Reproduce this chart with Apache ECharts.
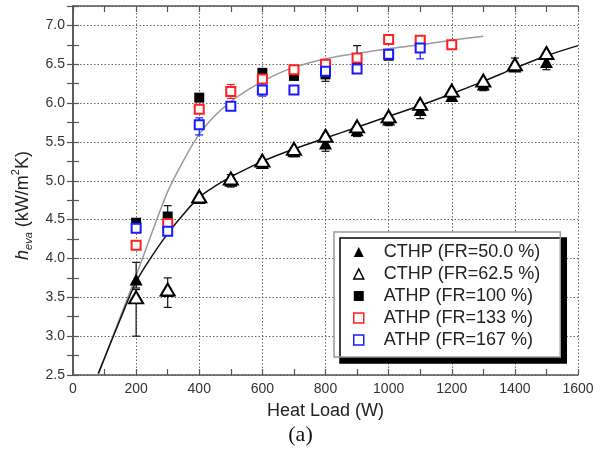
<!DOCTYPE html>
<html>
<head>
<meta charset="utf-8">
<script src="https://cdn.jsdelivr.net/npm/echarts@6/dist/echarts.min.js"></script>
<style>
html, body { margin: 0; padding: 0; background: #fff; }
#chart { width: 601px; height: 461px; }
</style>
</head>
<body>
<div id="chart"></div>
<script>
// measured points, heat load (W) vs h_eva (kW/m2K)
const cthp50X = [200, 300, 400, 500, 600, 700, 800, 900, 1000, 1100, 1200, 1300, 1400, 1500];
const cthp50Y = [3.73, 3.58, 4.78, 5.00, 5.23, 5.38, 5.48, 5.65, 5.79, 5.91, 6.09, 6.24, 6.47, 6.53];
const cthp625X = [200, 300, 400, 500, 600, 700, 800, 900, 1000, 1100, 1200, 1300, 1400, 1500];
const cthp625Y = [3.50, 3.60, 4.80, 5.03, 5.26, 5.41, 5.58, 5.70, 5.83, 5.99, 6.16, 6.29, 6.50, 6.645];
const athp100X = [200, 300, 400, 500, 600, 700, 800, 900, 1000, 1100];
const athp100Y = [4.46, 4.54, 6.07, 6.15, 6.39, 6.35, 6.37, 6.56, 6.61, 6.80];
const athp133X = [200, 300, 400, 500, 600, 700, 800, 900, 1000, 1100, 1200];
const athp133Y = [4.17, 4.45, 5.92, 6.15, 6.31, 6.43, 6.50, 6.58, 6.82, 6.81, 6.75];
const athp167X = [200, 300, 400, 500, 600, 700, 800, 900, 1000, 1100];
const athp167Y = [4.39, 4.35, 5.72, 5.96, 6.17, 6.17, 6.41, 6.44, 6.63, 6.71];

// error bars [load, low, high]
const errCthp50 = [[200, 3.62, 3.95], [600, 5.17, 5.28], [700, 5.31, 5.42], [800, 5.38, 5.56], [900, 5.57, 5.70],
                   [1000, 5.71, 5.84], [1100, 5.80, 5.96], [1300, 6.16, 6.28], [1500, 6.43, 6.60]];
const errCthp625 = [[200, 3.00, 3.60], [300, 3.37, 3.75], [500, 4.92, 5.08], [1400, 6.44, 6.58]];
const errAthp100 = [[300, 4.42, 4.68], [800, 6.28, 6.50], [900, 6.50, 6.74]];
const errAthp133 = [[500, 6.06, 6.24], [800, 6.46, 6.56]];
const errAthp167 = [[400, 5.59, 5.81], [600, 6.09, 6.25], [1100, 6.57, 6.85]];

// fitted curves
const fitBlackX = [80, 100, 150, 200, 250, 300, 350, 400, 450, 500, 600, 700, 800, 900, 1000, 1100, 1200, 1300, 1400, 1500, 1600];
const fitBlackY = [2.52, 2.72, 3.22, 3.70, 4.03, 4.32, 4.57, 4.79, 4.93, 5.05, 5.25, 5.41, 5.55, 5.69, 5.83, 5.97, 6.12, 6.28, 6.45, 6.61, 6.74];
const fitGrayX = [80, 100, 150, 200, 250, 300, 350, 400, 450, 500, 550, 600, 650, 700, 800, 900, 1000, 1100, 1200, 1300];
const fitGrayY = [2.50, 2.72, 3.25, 3.78, 4.33, 4.86, 5.26, 5.60, 5.84, 6.02, 6.16, 6.28, 6.38, 6.46, 6.57, 6.64, 6.70, 6.75, 6.81, 6.86];

const names = ['CTHP (FR=50.0 %)', 'CTHP (FR=62.5 %)', 'ATHP (FR=100 %)', 'ATHP (FR=133 %)', 'ATHP (FR=167 %)'];

const zip = (xs, ys) => xs.map((x, i) => [x, ys[i]]);

const chart = echarts.init(document.getElementById('chart'));

const frame = { show: true, lineStyle: { color: '#555', width: 1.5 } };
const inTicks = { show: true, inside: true, length: 6, lineStyle: { color: '#555', width: 1.2 } };
const gridLine = { show: true, lineStyle: { color: '#666', type: [1.5, 2], width: 1 } };
const font = 'Liberation Sans';

function errorSeries(data, color) {
    return {
        type: 'custom',
        data: data,
        encode: { x: 0, y: [1, 2] },
        z: 3,
        silent: true,
        renderItem: function (params, api) {
            const lo = api.coord([api.value(0), api.value(1)]);
            const hi = api.coord([api.value(0), api.value(2)]);
            const w = 4;
            const st = { stroke: color, lineWidth: 1.2 };
            return {
                type: 'group',
                children: [
                    { type: 'line', shape: { x1: lo[0], y1: lo[1], x2: hi[0], y2: hi[1] }, style: st },
                    { type: 'line', shape: { x1: lo[0] - w, y1: lo[1], x2: lo[0] + w, y2: lo[1] }, style: st },
                    { type: 'line', shape: { x1: hi[0] - w, y1: hi[1], x2: hi[0] + w, y2: hi[1] }, style: st }
                ]
            };
        }
    };
}

const option = {
    animation: false,
    grid: { left: 73, right: 23, top: 6, bottom: 86 },
    xAxis: [
        {
            type: 'value', min: 0, max: 1600, interval: 100, position: 'bottom',
            axisLine: frame, axisTick: inTicks, splitLine: { show: false },
            axisLabel: {
                margin: 7, fontSize: 14, color: '#333', fontFamily: font,
                formatter: v => (v % 200 === 0 ? String(v) : '')
            },
            name: 'Heat Load (W)', nameLocation: 'middle', nameGap: 27,
            nameTextStyle: { fontSize: 18, color: '#222', fontFamily: font }
        },
        {
            type: 'value', min: 0, max: 1600, interval: 100, position: 'top',
            axisLine: frame, axisTick: inTicks, axisLabel: { show: false }, splitLine: { show: false }
        },
        {
            type: 'value', min: 0, max: 1600, interval: 200, position: 'bottom',
            axisLine: { show: false }, axisTick: { show: false }, axisLabel: { show: false }, splitLine: gridLine
        }
    ],
    yAxis: [
        {
            type: 'value', min: 2.5, max: 7.25, interval: 0.25, position: 'left',
            axisLine: frame, axisTick: inTicks, splitLine: { show: false },
            axisLabel: {
                margin: 8, fontSize: 14, color: '#333', fontFamily: font,
                formatter: v => (Math.abs(v * 2 - Math.round(v * 2)) < 1e-9 && v < 7.1 ? v.toFixed(1) : '')
            },
            name: '{i|h}{sub|eva} (kW/m{sup|2}K)', nameLocation: 'middle', nameGap: 38,
            nameTextStyle: {
                fontSize: 18, color: '#222', fontFamily: font, lineHeight: 24, padding: [0, 30, 0, 0],
                rich: {
                    i: { fontSize: 18, fontStyle: 'italic', color: '#222', fontFamily: font, lineHeight: 24 },
                    sub: { fontSize: 11, fontStyle: 'italic', color: '#222', fontFamily: font, verticalAlign: 'bottom' },
                    sup: { fontSize: 11, color: '#222', fontFamily: font, verticalAlign: 'top' }
                }
            }
        },
        {
            type: 'value', min: 2.5, max: 7.25, interval: 0.25, position: 'right',
            axisLine: frame, axisTick: inTicks, axisLabel: { show: false }, splitLine: { show: false }
        },
        {
            type: 'value', min: 2.5, max: 7.25, interval: 0.5, position: 'left',
            axisLine: { show: false }, axisTick: { show: false }, axisLabel: { show: false }, splitLine: gridLine
        }
    ],
    legend: {
        orient: 'vertical', left: 334, top: 232,
        data: names,
        selectedMode: false,
        itemWidth: 10, itemHeight: 10, itemGap: 0,
        padding: [9, 20, 6, 19],
        backgroundColor: '#fff', borderColor: '#999', borderWidth: 1.5,
        shadowColor: '#000', shadowBlur: 0, shadowOffsetX: 6, shadowOffsetY: 6,
        itemStyle: { borderWidth: 1.5, opacity: 1 },
        textStyle: { fontSize: 18, color: '#222', fontFamily: font, lineHeight: 22, padding: [0, 0, 0, 15] }
    },
    graphic: [
        { type: 'text', left: 'center', top: 424, style: { text: '(a)', font: '22px "Liberation Serif"', fill: '#111' } }
    ],
    series: [
        {
            type: 'line', data: zip(fitGrayX, fitGrayY), showSymbol: false, smooth: 0.3,
            lineStyle: { color: '#9a9a9a', width: 1.5 }, z: 1, silent: true
        },
        {
            type: 'line', data: zip(fitBlackX, fitBlackY), showSymbol: false, smooth: 0.3,
            lineStyle: { color: '#111', width: 1.5 }, z: 1, silent: true
        },
        errorSeries(errCthp50, '#111'),
        errorSeries(errCthp625, '#111'),
        errorSeries(errAthp100, '#111'),
        errorSeries(errAthp133, '#ff2020'),
        errorSeries(errAthp167, '#1a1aff'),
        {
            name: names[0], type: 'scatter', data: zip(cthp50X, cthp50Y), symbol: 'triangle', symbolSize: [13, 12],
            itemStyle: { color: '#000', opacity: 1 }, z: 4
        },
        {
            name: names[1], type: 'scatter', data: zip(cthp625X, cthp625Y), symbol: 'triangle', symbolSize: [14, 12],
            itemStyle: { color: '#fff', borderColor: '#000', borderWidth: 2, opacity: 1 }, z: 5
        },
        {
            name: names[2], type: 'scatter', data: zip(athp100X, athp100Y), symbol: 'rect', symbolSize: 10,
            itemStyle: { color: '#000', opacity: 1 }, z: 4
        },
        {
            name: names[3], type: 'scatter', data: zip(athp133X, athp133Y), symbol: 'rect', symbolSize: 9,
            itemStyle: { color: '#fff', borderColor: '#ff2020', borderWidth: 2, opacity: 1 }, z: 5
        },
        {
            name: names[4], type: 'scatter', data: zip(athp167X, athp167Y), symbol: 'rect', symbolSize: 9,
            itemStyle: { color: '#fff', borderColor: '#1a1aff', borderWidth: 2, opacity: 1 }, z: 6
        }
    ]
};

chart.setOption(option);
</script>
</body>
</html>
